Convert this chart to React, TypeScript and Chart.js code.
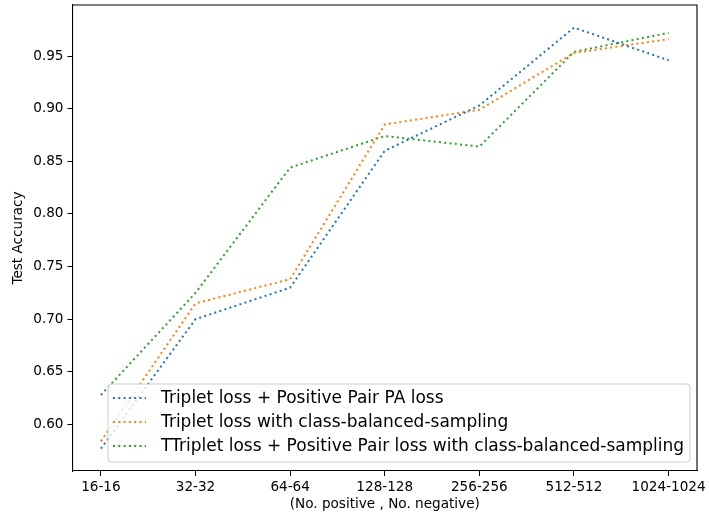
import React, { useEffect, useRef } from 'react';
import { Chart, registerables } from 'chart.js';
Chart.register(...registerables);

const categories = ['16-16', '32-32', '64-64', '128-128', '256-256', '512-512', '1024-1024'];
const seriesLabels = [
  'Triplet loss + Positive Pair PA loss',
  'Triplet loss with class-balanced-sampling',
  'TTriplet loss + Positive Pair loss with class-balanced-sampling',
];
const tripletPairPA = [0.577, 0.7, 0.73, 0.86, 0.903, 0.977, 0.946];
const tripletBalanced = [0.584, 0.715, 0.738, 0.885, 0.899, 0.953, 0.966];
const tripletPairBalanced = [0.628, 0.725, 0.844, 0.874, 0.864, 0.954, 0.972];
const yTicks = [0.6, 0.65, 0.7, 0.75, 0.8, 0.85, 0.9, 0.95];
const colors = ['#1f77b4', '#ff7f0e', '#2ca02c'];

const FONT = 'DejaVu Sans';
const DASH = [2, 3.3];

const frameAndLegend = {
  id: 'frameAndLegend',
  afterDatasetsDraw(chart: any) {
    const { ctx, chartArea } = chart;
    const { left, right, top, bottom } = chartArea;
    ctx.save();
    ctx.strokeStyle = '#000';
    ctx.lineWidth = 1.1;
    ctx.beginPath();
    ctx.moveTo(left, top);
    ctx.lineTo(right, top);
    ctx.lineTo(right, bottom);
    ctx.stroke();

    const bx = 108, by = 384, bw = 582, bh = 78, r = 3;
    ctx.beginPath();
    ctx.moveTo(bx + r, by);
    ctx.lineTo(bx + bw - r, by);
    ctx.quadraticCurveTo(bx + bw, by, bx + bw, by + r);
    ctx.lineTo(bx + bw, by + bh - r);
    ctx.quadraticCurveTo(bx + bw, by + bh, bx + bw - r, by + bh);
    ctx.lineTo(bx + r, by + bh);
    ctx.quadraticCurveTo(bx, by + bh, bx, by + bh - r);
    ctx.lineTo(bx, by + r);
    ctx.quadraticCurveTo(bx, by, bx + r, by);
    ctx.closePath();
    ctx.fillStyle = 'rgba(255,255,255,0.8)';
    ctx.fill();
    ctx.strokeStyle = 'rgb(204,204,204)';
    ctx.lineWidth = 1;
    ctx.stroke();

    ctx.font = `17px "${FONT}"`;
    ctx.textBaseline = 'middle';
    ctx.textAlign = 'left';
    seriesLabels.forEach((label, i) => {
      const y = 398 + i * 24;
      ctx.beginPath();
      ctx.setLineDash(DASH);
      ctx.strokeStyle = colors[i];
      ctx.lineWidth = 2;
      ctx.moveTo(113, y);
      ctx.lineTo(146, y);
      ctx.stroke();
      ctx.setLineDash([]);
      ctx.fillStyle = '#000';
      ctx.fillText(label, 161, y + 1);
    });
    ctx.restore();
  },
};

export default function App() {
  const ref = useRef<HTMLCanvasElement>(null);
  useEffect(() => {
    document.body.style.margin = '0';
    const series = [tripletPairPA, tripletBalanced, tripletPairBalanced];
    const chart = new Chart(ref.current!, {
      type: 'line',
      data: {
        datasets: series.map((vals, i) => ({
          label: seriesLabels[i],
          data: vals.map((v, j) => ({ x: j, y: v })),
          borderColor: colors[i],
          backgroundColor: colors[i],
          borderWidth: 2,
          borderDash: DASH,
          pointRadius: 0,
          tension: 0,
          fill: false,
        })),
      },
      options: {
        responsive: false,
        animation: false,
        layout: { padding: { top: 5, right: 12, left: 0, bottom: 0 } },
        plugins: { legend: { display: false }, tooltip: { enabled: false } },
        scales: {
          x: {
            type: 'linear',
            min: -0.3,
            max: 6.3,
            afterBuildTicks: (s: any) => {
              s.ticks = categories.map((_, i) => ({ value: i }));
            },
            afterFit: (s: any) => {
              s.height = 44;
              s.paddingLeft = 0;
              s.paddingRight = 0;
            },
            ticks: {
              callback: (v: any) => categories[v as number] ?? '',
              color: '#000',
              font: { family: FONT, size: 13.6 },
              padding: 3,
              maxRotation: 0,
              autoSkip: false,
            },
            grid: { drawOnChartArea: false, drawTicks: true, tickLength: 5, tickColor: '#000', tickWidth: 1 },
            border: { display: true, color: '#000', width: 1.1 },
            title: {
              display: true,
              text: '(No. positive , No. negative)',
              color: '#000',
              font: { family: FONT, size: 13.6 },
              padding: { top: 0, bottom: 2 },
            },
          },
          y: {
            type: 'linear',
            min: 0.5558,
            max: 0.9985,
            afterBuildTicks: (s: any) => {
              s.ticks = yTicks.map((v) => ({ value: v }));
            },
            afterFit: (s: any) => {
              s.width = 72.5;
              s.paddingTop = 0;
              s.paddingBottom = 0;
            },
            ticks: {
              callback: (v: any) => Number(v).toFixed(2),
              color: '#000',
              font: { family: FONT, size: 13.6 },
              padding: 4,
            },
            grid: { drawOnChartArea: false, drawTicks: true, tickLength: 5, tickColor: '#000', tickWidth: 1 },
            border: { display: true, color: '#000', width: 1.1 },
            title: {
              display: true,
              text: 'Test Accuracy',
              color: '#000',
              font: { family: FONT, size: 13.6 },
              padding: { top: 10, bottom: 0 },
            },
          },
        },
      },
      plugins: [frameAndLegend],
    });
    return () => chart.destroy();
  }, []);
  return <canvas ref={ref} width={709} height={515} style={{ display: 'block' }} />;
}
